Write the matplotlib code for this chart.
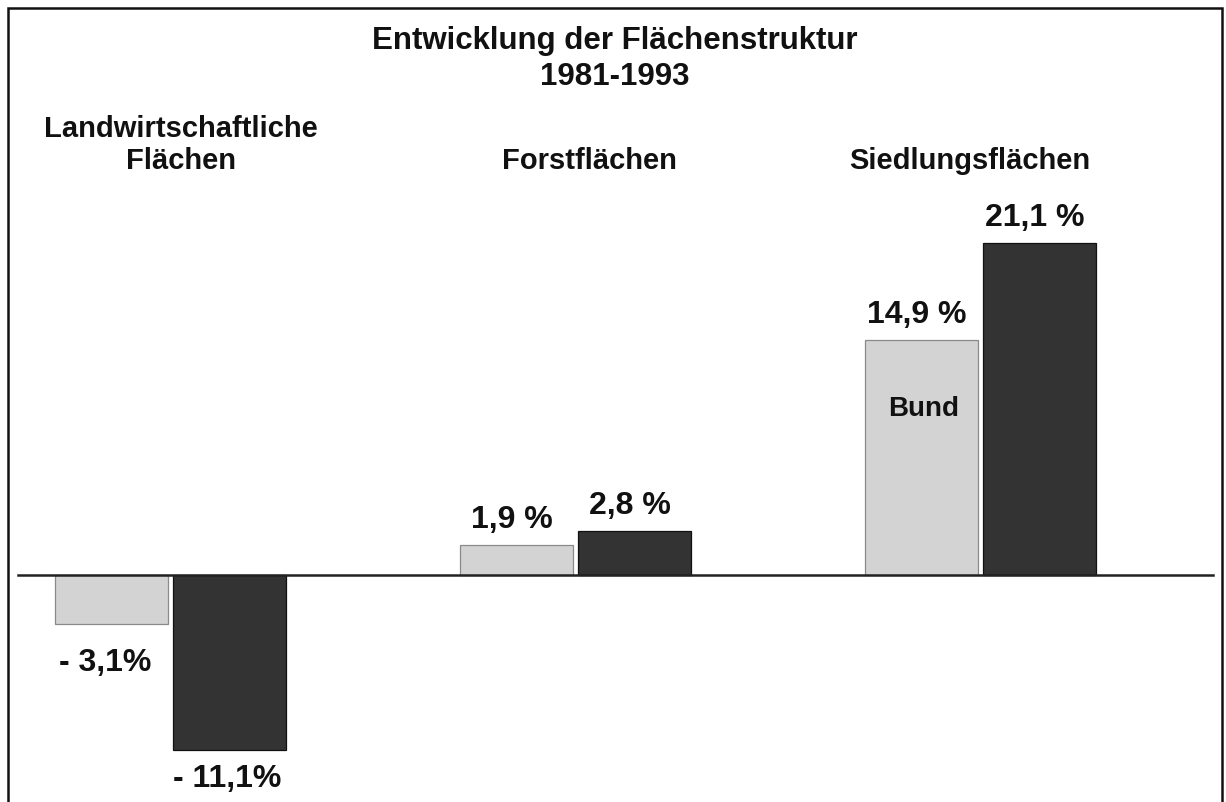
import matplotlib
matplotlib.use("Agg")
import matplotlib.pyplot as plt
from matplotlib.patches import Rectangle

plt.rcParams['font.family'] = ['Liberation Sans', 'DejaVu Sans']

title_lines = ["Entwicklung der Flächenstruktur", "1981-1993"]
categories = ["Landwirtschaftliche\nFlächen", "Forstflächen", "Siedlungsflächen"]
bund = [-3.1, 1.9, 14.9]
land = [-11.1, 2.8, 21.1]
bund_labels = ["- 3,1%", "1,9 %", "14,9 %"]
land_labels = ["- 11,1%", "2,8 %", "21,1 %"]
series_label = "Bund"

W, H = 1226, 803
fig = plt.figure(figsize=(W / 100, H / 100), dpi=100)
ax = fig.add_axes([0, 0, 1, 1])

# pixel-to-data mapping
x0_px, dx_px = 170.0, 405.5
y0_px, dy_px = 576.0, 15.75
ax.set_xlim((0 - x0_px) / dx_px, (W - x0_px) / dx_px)
ax.set_ylim((y0_px - H) / dy_px, (y0_px - 0) / dy_px)
ax.axis('off')

bw = 113 / dx_px
off = 59 / dx_px
xs = list(range(len(categories)))

light = '#d3d3d3'
dark = '#333333'
ax.bar([x - off for x in xs], bund, width=bw, color=light, edgecolor='#8a8a8a', linewidth=0.9, zorder=2)
ax.bar([x + off for x in xs], land, width=bw, color=dark, edgecolor='#111111', linewidth=0.9, zorder=2)

# baseline
ax.plot([(18 - x0_px) / dx_px, (1213 - x0_px) / dx_px], [0, 0], color='#222222', lw=1.8, zorder=3)

vfs = 23
txt = dict(fontweight='bold', color='#111111', textcoords='offset pixels', va='baseline', ha='center')

def label(x, v, lab, neg_dx=0, neg_dy=0):
    if v >= 0:
        ax.annotate(lab, (x, v), xytext=(-5, 18), fontsize=vfs, **txt)
    else:
        ax.annotate(lab, (x, v), xytext=(neg_dx, neg_dy), fontsize=vfs, **txt)

label(xs[0] - off, bund[0], bund_labels[0], neg_dx=-6, neg_dy=-46)
label(xs[0] + off, land[0], land_labels[0], neg_dx=-2, neg_dy=-36)
for i in (1, 2):
    label(xs[i] - off, bund[i], bund_labels[i])
    label(xs[i] + off, land[i], land_labels[i])

# "Bund" label inside light bar of last group
ax.annotate(series_label, (xs[-1] - off, bund[-1]), xytext=(2, -75), textcoords='offset pixels',
            ha='center', va='baseline', fontsize=20, fontweight='bold', color='#111111')

# category labels
cat_px = [181, 589, 970]
for px, c in zip(cat_px, categories):
    fig.text(px / W, 1 - 169 / H, c, ha='center', va='baseline', fontsize=21,
             fontweight='bold', color='#111111', linespacing=1.18)

fig.text(615 / W, 1 - 49 / H, title_lines[0], ha='center', va='baseline', fontsize=22.5,
         fontweight='bold', color='#111111')
fig.text(615 / W, 1 - 85 / H, title_lines[1], ha='center', va='baseline', fontsize=22.5,
         fontweight='bold', color='#111111')

# border
fig.patches.append(Rectangle((8 / W, -0.01), (1222 - 8) / W, 1 - 9 / H + 0.01,
                             transform=fig.transFigure, fill=False, edgecolor='#111111',
                             linewidth=1.8))

fig.savefig('out.png', dpi=100, facecolor='white')
